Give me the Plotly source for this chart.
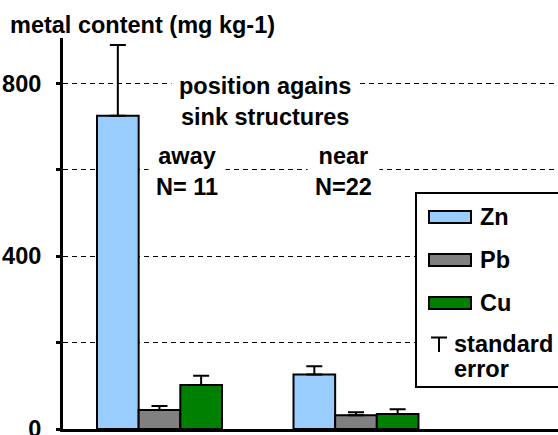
import plotly.graph_objects as go

# ---- data ----
positions = ["away", "near"]
metals = ["Zn", "Pb", "Cu"]
zn_mean = [725, 126]
zn_se = [164, 19]
pb_mean = [44, 32]
pb_se = [9, 7]
cu_mean = [102, 35]
cu_se = [21, 11]
y_tickvals = [0, 200, 400, 600, 800]
y_ticktext = ["0", "", "400", "", "800"]

colors = {"Zn": "#99CCFF", "Pb": "#808080", "Cu": "#008000"}
FONT = "Arial, Liberation Sans, sans-serif"
FS = 23.5

W, H = 558, 435
PL, PR, PT, PB = 63, 558, 38, 429  # plot area in pixels


def px(x):
    return (x - PL) / (PR - PL)


def py(y):
    return (PB - y) / (PB - PT)


fig = go.Figure()
for name, vals, se in [("Zn", zn_mean, zn_se), ("Pb", pb_mean, pb_se), ("Cu", cu_mean, cu_se)]:
    fig.add_trace(go.Bar(
        x=positions, y=vals, name=name,
        marker=dict(color=colors[name], line=dict(color="black", width=2)),
        error_y=dict(type="data", symmetric=False, array=se, arrayminus=[0] * len(se),
                     color="black", thickness=2, width=8),
        showlegend=False,
    ))

annotations = [
    dict(text="position agains<br>sink structures", x=px(265), y=py(101)),
    dict(text="away<br>N= 11", x=px(187), y=py(171.5)),
    dict(text="near<br>N=22", x=px(343), y=py(171.5)),
]
ann = []
for a in annotations:
    ann.append(dict(text=a["text"], x=a["x"], y=a["y"], xref="paper", yref="paper",
                    xanchor="center", yanchor="middle", showarrow=False,
                    bgcolor="white", borderpad=7,
                    font=dict(family=FONT, size=FS, color="black", weight="bold")))

shapes = []
# legend box
shapes.append(dict(type="rect", xref="paper", yref="paper",
                   x0=px(416), x1=px(620), y0=py(387), y1=py(193),
                   line=dict(color="black", width=2), fillcolor="white", layer="above"))
leg_y = {"Zn": 217, "Pb": 260, "Cu": 303}
for m in metals:
    yc = leg_y[m]
    shapes.append(dict(type="rect", xref="paper", yref="paper",
                       x0=px(429), x1=px(471), y0=py(yc + 6), y1=py(yc - 6),
                       line=dict(color="black", width=2), fillcolor=colors[m], layer="above"))
    ann.append(dict(text=m, x=px(478), y=py(yc), xref="paper", yref="paper",
                    xanchor="left", yanchor="middle", showarrow=False,
                    font=dict(family=FONT, size=FS, color="black", weight="bold")))
# error-bar symbol
shapes.append(dict(type="line", xref="paper", yref="paper",
                   x0=px(431), x1=px(447), y0=py(337.5), y1=py(337.5),
                   line=dict(color="black", width=2)))
shapes.append(dict(type="line", xref="paper", yref="paper",
                   x0=px(439), x1=px(439), y0=py(337.5), y1=py(352),
                   line=dict(color="black", width=2)))
ann.append(dict(text="standard", x=px(452), y=py(344), xref="paper", yref="paper",
                xanchor="left", yanchor="middle", showarrow=False,
                font=dict(family=FONT, size=FS, color="black", weight="bold")))
ann.append(dict(text="error", x=px(452), y=py(369), xref="paper", yref="paper",
                xanchor="left", yanchor="middle", showarrow=False,
                font=dict(family=FONT, size=FS, color="black", weight="bold")))

fig.update_layout(
    width=W, height=H,
    margin=dict(l=PL, r=W - PR, t=PT, b=H - PB, pad=0, autoexpand=False),
    paper_bgcolor="white", plot_bgcolor="white",
    barmode="group", bargap=0.364, bargroupgap=0,
    title=dict(text="metal content (mg kg-1)", x=10 / W, xanchor="left",
               xref="container", y=1 - 25 / H, yref="container", yanchor="middle",
               font=dict(family=FONT, size=FS, color="black", weight="bold")),
    annotations=ann, shapes=shapes,
    showlegend=False,
)
fig.update_xaxes(
    range=[-0.491, 2.028], showline=True, linecolor="black", linewidth=3,
    showticklabels=False, ticks="", showgrid=False, zeroline=False, automargin=False,
)
fig.update_yaxes(
    range=[0, 905], tickmode="array", tickvals=y_tickvals, ticktext=y_ticktext,
    showline=True, linecolor="black", linewidth=3,
    ticks="outside", ticklen=4, tickwidth=3, tickcolor="black",
    ticklabelstandoff=10, ticklabeloverflow="allow", automargin=False,
    tickfont=dict(family=FONT, size=FS, color="black", weight="bold"),
    showgrid=True, gridcolor="black", gridwidth=1, griddash="5px,4px",
    zeroline=False,
)

fig.write_html(
    "out.html",
    config={"displayModeBar": False},
    post_script="document.body.style.margin='0';document.body.style.overflow='hidden';",
)
